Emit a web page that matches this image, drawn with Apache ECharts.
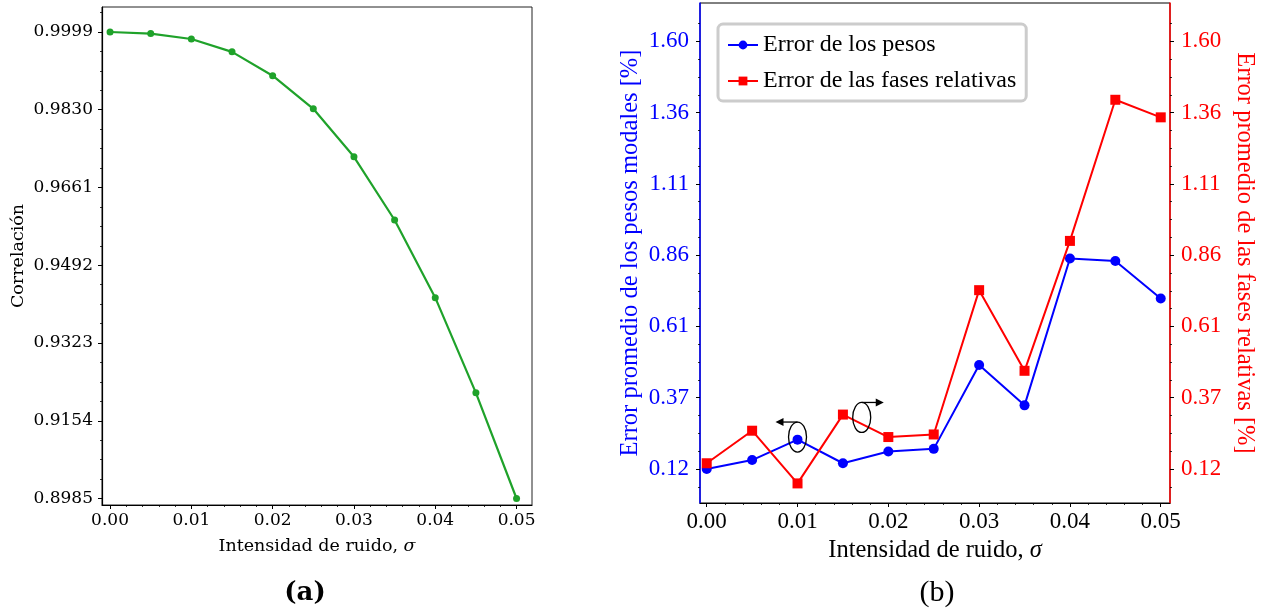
<!DOCTYPE html>
<html>
<head>
<meta charset="utf-8">
<script src="https://cdn.jsdelivr.net/npm/echarts@6/dist/echarts.min.js"></script>
<style>
  html, body { margin: 0; padding: 0; background: #fff; }
  #chart { width: 1269px; height: 613px; }
</style>
</head>
<body>
<div id="chart"></div>
<script>
// Noise intensity (sigma) shared by both panels
const sigma = [0, 0.005, 0.01, 0.015, 0.02, 0.025, 0.03, 0.035, 0.04, 0.045, 0.05];

// Panel (a): correlation vs noise
const correlation = [0.9999, 0.99956, 0.99837, 0.99558, 0.9904, 0.9832, 0.97277, 0.95903, 0.94216, 0.92147, 0.8985];

// Panel (b): mean errors [%]
const weightError = [0.118, 0.149, 0.220, 0.138, 0.179, 0.188, 0.479, 0.339, 0.849, 0.840, 0.710];
const phaseError = [0.138, 0.251, 0.068, 0.307, 0.229, 0.238, 0.739, 0.459, 0.910, 1.400, 1.339];

// Tick positions and their labels
const sigmaTicks = [0, 0.01, 0.02, 0.03, 0.04, 0.05];
const sigmaTickLabels = ['0.00', '0.01', '0.02', '0.03', '0.04', '0.05'];
const corrTicks = [0.8985, 0.9154, 0.9323, 0.9492, 0.9661, 0.9830, 0.9999];
const corrTickLabels = ['0.8985', '0.9154', '0.9323', '0.9492', '0.9661', '0.9830', '0.9999'];
const errTicks = [0.118, 0.3655, 0.613, 0.8605, 1.108, 1.3555, 1.603];
const errTickLabels = ['0.12', '0.37', '0.61', '0.86', '1.11', '1.36', '1.60'];

// Axis extents
const sigmaRangeA = [-0.00099, 0.0519];
const corrRange = [0.89709, 1.00533];
const sigmaRangeB = [-0.00074, 0.05102];
const errRange = [0, 1.736];

// Annotation anchors (data coordinates in panel b)
const weightAnchor = [0.01, 0.229];
const phaseAnchor = [0.01707, 0.297];

function minorTicks(major, parts, lo, hi) {
  const out = [];
  const step = (major[1] - major[0]) / parts;
  const start = major[0] - parts * step;
  const end = major[major.length - 1] + parts * step;
  for (let k = 0; start + k * step <= end + 1e-12; k++) {
    if (k % parts === 0) continue;
    const v = start + k * step;
    if (v > lo && v < hi) out.push(v);
  }
  return out;
}

function labelFor(ticks, labels) {
  return function (v) {
    for (let i = 0; i < ticks.length; i++) {
      if (Math.abs(ticks[i] - v) < 1e-7) return labels[i];
    }
    return '';
  };
}

const serifA = 'DejaVu Serif';
const serifB = 'Liberation Serif';
const BLUE = '#0000ff';
const RED = '#ff0000';
const GREEN = '#1fa22a';

function majorAxis(opts) {
  return Object.assign({
    type: 'value',
    splitLine: { show: false },
    axisLine: { show: true, onZero: false, lineStyle: { color: '#000', width: 1.2 } },
    axisTick: { show: true, inside: false, length: 4, lineStyle: { color: '#000', width: 1 } },
  }, opts);
}

function minorAxis(opts, values, len) {
  return Object.assign({
    type: 'value',
    splitLine: { show: false },
    axisLine: { show: false, onZero: false },
    axisLabel: { show: false },
    axisTick: { show: true, inside: false, length: len, customValues: values, lineStyle: { color: '#000', width: 0.8 } },
  }, opts);
}

const option = {
  animation: false,
  backgroundColor: '#fff',
  grid: [
    { left: 102, top: 7, width: 430, height: 498, show: true, borderColor: '#222', borderWidth: 1, backgroundColor: 'transparent', containLabel: false, outerBoundsMode: 'none' },
    { left: 700, top: 3, width: 470, height: 500, show: true, borderColor: '#000', borderWidth: 1, backgroundColor: 'transparent', containLabel: false, outerBoundsMode: 'none' }
  ],
  xAxis: [
    majorAxis({
      gridIndex: 0, position: 'bottom', min: sigmaRangeA[0], max: sigmaRangeA[1],
      axisTick: { show: true, length: 4, customValues: sigmaTicks, lineStyle: { color: '#000', width: 1 } },
      axisLabel: { customValues: sigmaTicks, formatter: labelFor(sigmaTicks, sigmaTickLabels), margin: 7, color: '#000', fontFamily: serifA, fontSize: 17 },
      name: 'Intensidad de ruido, {s|σ}', nameLocation: 'middle', nameGap: 32,
      nameTextStyle: { color: '#000', fontFamily: serifA, fontSize: 17.5, rich: { s: { fontFamily: serifA, fontSize: 17.5, fontStyle: 'italic', color: '#000' } } }
    }),
    minorAxis({ gridIndex: 0, position: 'bottom', min: sigmaRangeA[0], max: sigmaRangeA[1] },
      minorTicks(sigmaTicks, 5, sigmaRangeA[0], sigmaRangeA[1]), 2),
    majorAxis({
      gridIndex: 1, position: 'bottom', min: sigmaRangeB[0], max: sigmaRangeB[1],
      axisTick: { show: true, length: 4, customValues: sigmaTicks, lineStyle: { color: '#000', width: 1 } },
      axisLabel: { customValues: sigmaTicks, formatter: labelFor(sigmaTicks, sigmaTickLabels), margin: 7, color: '#000', fontFamily: serifB, fontSize: 23 },
      name: 'Intensidad de ruido, {s|σ}', nameLocation: 'middle', nameGap: 31,
      nameTextStyle: { color: '#000', fontFamily: serifB, fontSize: 24.5, rich: { s: { fontFamily: serifB, fontSize: 24.5, fontStyle: 'italic', color: '#000' } } }
    }),
    minorAxis({ gridIndex: 1, position: 'bottom', min: sigmaRangeB[0], max: sigmaRangeB[1] },
      minorTicks(sigmaTicks, 5, sigmaRangeB[0], sigmaRangeB[1]), 2)
  ],
  yAxis: [
    majorAxis({
      gridIndex: 0, position: 'left', min: corrRange[0], max: corrRange[1],
      axisTick: { show: true, length: 4, customValues: corrTicks, lineStyle: { color: '#000', width: 1 } },
      axisLabel: { customValues: corrTicks, formatter: labelFor(corrTicks, corrTickLabels), margin: 9, color: '#000', fontFamily: serifA, fontSize: 17 },
      name: 'Correlación', nameLocation: 'middle', nameGap: 75,
      nameTextStyle: { color: '#000', fontFamily: serifA, fontSize: 17.5 }
    }),
    minorAxis({ gridIndex: 0, position: 'left', min: corrRange[0], max: corrRange[1] },
      minorTicks(corrTicks, 4, corrRange[0], corrRange[1]), 2),
    majorAxis({
      gridIndex: 1, position: 'left', min: errRange[0], max: errRange[1],
      axisLine: { show: true, onZero: false, lineStyle: { color: BLUE, width: 1.5 } },
      axisTick: { show: true, length: 4, customValues: errTicks, lineStyle: { color: '#000', width: 1 } },
      axisLabel: { customValues: errTicks, formatter: labelFor(errTicks, errTickLabels), margin: 11, color: BLUE, fontFamily: serifB, fontSize: 23 },
      name: 'Error promedio de los pesos modales [%]', nameLocation: 'middle', nameGap: 57,
      nameTextStyle: { color: BLUE, fontFamily: serifB, fontSize: 24.5 }
    }),
    majorAxis({
      gridIndex: 1, position: 'right', min: errRange[0], max: errRange[1],
      axisLine: { show: true, onZero: false, lineStyle: { color: RED, width: 1.5 } },
      axisTick: { show: true, length: 4, customValues: errTicks, lineStyle: { color: '#000', width: 1 } },
      axisLabel: { customValues: errTicks, formatter: labelFor(errTicks, errTickLabels), margin: 11, color: RED, fontFamily: serifB, fontSize: 23 },
      name: 'Error promedio de las fases relativas [%]', nameLocation: 'middle', nameGap: 62, nameRotate: -90,
      nameTextStyle: { color: RED, fontFamily: serifB, fontSize: 24.5 }
    }),
    minorAxis({ gridIndex: 1, position: 'left', min: errRange[0], max: errRange[1] },
      minorTicks(errTicks, 4, errRange[0], errRange[1] - 0.02), 2),
    minorAxis({ gridIndex: 1, position: 'right', min: errRange[0], max: errRange[1] },
      minorTicks(errTicks, 4, errRange[0], errRange[1] - 0.02), 2)
  ],
  legend: {
    show: true,
    orient: 'vertical',
    left: 718, top: 24,
    padding: [9, 10, 8, 9],
    itemGap: 12,
    itemWidth: 30, itemHeight: 11,
    backgroundColor: '#fff',
    borderColor: '#cccccc', borderWidth: 3, borderRadius: 5,
    textStyle: { color: '#000', fontFamily: serifB, fontSize: 24 },
    data: ['Error de los pesos', 'Error de las fases relativas']
  },
  series: [
    {
      name: 'Correlación', type: 'line', xAxisIndex: 0, yAxisIndex: 0,
      data: sigma.map((s, i) => [s, correlation[i]]),
      symbol: 'circle', symbolSize: 7,
      lineStyle: { color: GREEN, width: 2.2 },
      itemStyle: { color: GREEN },
      z: 3
    },
    {
      name: 'Error de los pesos', type: 'line', xAxisIndex: 2, yAxisIndex: 2,
      data: sigma.map((s, i) => [s, weightError[i]]),
      symbol: 'circle', symbolSize: 10,
      lineStyle: { color: BLUE, width: 2 },
      itemStyle: { color: BLUE },
      z: 3
    },
    {
      name: 'Error de las fases relativas', type: 'line', xAxisIndex: 2, yAxisIndex: 3,
      data: sigma.map((s, i) => [s, phaseError[i]]),
      symbol: 'rect', symbolSize: 10,
      lineStyle: { color: RED, width: 2 },
      itemStyle: { color: RED },
      z: 4
    }
  ],
  graphic: []
};

const chart = echarts.init(document.getElementById('chart'), null, { renderer: 'canvas' });
chart.setOption(option);

// Axis-membership markers: an ellipse around a curve with an arrow pointing to its axis
function membership(anchor, dir) {
  const p = chart.convertToPixel({ xAxisIndex: 2, yAxisIndex: 2 }, anchor);
  const rx = 9, ry = 15, len = 22, head = 8;
  const topY = p[1] - ry;
  const endX = p[0] + dir * len;
  return [
    { type: 'ellipse', shape: { cx: p[0], cy: p[1], rx: rx, ry: ry }, style: { fill: 'none', stroke: '#000', lineWidth: 1.3 }, z: 10 },
    { type: 'line', shape: { x1: p[0], y1: topY, x2: endX - dir * head * 0.6, y2: topY }, style: { stroke: '#000', lineWidth: 1.3 }, z: 10 },
    { type: 'polygon', shape: { points: [[endX, topY], [endX - dir * head, topY - 4], [endX - dir * head, topY + 4]] }, style: { fill: '#000' }, z: 10 }
  ];
}

const elements = []
  .concat(membership(weightAnchor, -1))
  .concat(membership(phaseAnchor, 1))
  .concat([
    { type: 'text', x: 305, y: 593, style: { text: '(a)', font: 'bold 26px "DejaVu Serif"', fill: '#000', align: 'center', verticalAlign: 'middle' } },
    { type: 'text', x: 937, y: 593, style: { text: '(b)', font: '30px "Liberation Serif"', fill: '#000', align: 'center', verticalAlign: 'middle' } }
  ]);

chart.setOption({ graphic: elements });
</script>
</body>
</html>
